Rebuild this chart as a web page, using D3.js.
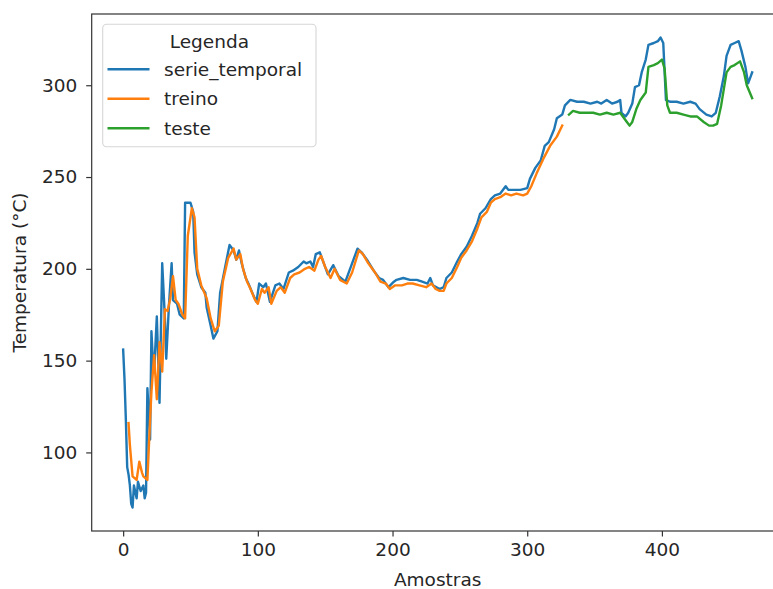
<!DOCTYPE html>
<html>
<head>
<meta charset="utf-8">
<script src="https://cdn.jsdelivr.net/npm/d3@7"></script>
<style>
  body { margin: 0; background: #fff; }
  text { font-family: 'DejaVu Sans', sans-serif; fill: #262626; }
</style>
</head>
<body>
<script>
width = 773;
height = 589;

// [amostra, temperatura]
const serieTemporal = [
  [0,156],[1,140],[2,118],[3,92],[4,88],[5,82],[6,72],[7,70],[8,82],[10,75],[11,84],[13,79],[15,82],[16,75],[17,78],
  [18,135],[20,107],[21,166],[22,151],[23,144],[25,174],[27,127],[29,203],[31,173],[32,151],[34,180],[36,203],[37,183],
  [40,181],[42,175],[45,173],[46,236],[50,236],[52,231],[53,209],[55,197],[58,190],[61,187],[62,179],[65,169],[67,162],
  [70,166],[72,187],[76,202],[79,213],[82,210],[84,205],[86,210],[88,203],[91,195],[93,192],[97,185],[99,182],[101,192],
  [104,190],[106,192],[109,182],[113,191],[116,192],[119,189],[123,198],[126,199],[130,201],[134,204],[136,203],[139,204],
  [141,201],[143,208],[146,209],[149,203],[152,197],[156,202],[160,196],[165,193],[168,199],[174,211],[177,209],[181,205],
  [186,199],[190,195],[193,194],[197,190],[201,193],[203,194],[208,195],[213,194],[218,194],[222,193],[226,192],[228,195],
  [230,191],[235,189],[238,190],[240,195],[244,198],[248,204],[251,208],[255,212],[259,218],[263,225],[265,230],[269,233],
  [273,238],[276,240],[280,241],[284,245],[286,243],[290,243],[295,243],[300,244],[302,249],[306,255],[310,259],[313,267],
  [316,269],[320,276],[322,282],[326,284],[328,289],[332,292],[337,291],[342,291],[347,290],[352,291],[355,290],[359,292],
  [363,290],[367,291],[369,292],[370,285],[373,283],[375,285],[378,290],[380,299],[383,300],[385,307],[388,314],[390,322],
  [394,323],[397,324],[399,326],[401,323],[403,292],[406,291],[411,291],[416,290],[421,291],[425,290],[428,287],[433,284],
  [437,283],[440,285],[443,294],[446,305],[448,316],[451,322],[454,323],[457,324],[459,319],[462,310],[464,301],[466,305],[467,307]
];

const treino = [
  [4,116],[5,104],[7,87],[10,85],[12,95],[14,89],[15,87],[18,85],[20,118],[21,133],[23,153],[25,129],[27,160],[29,144],
  [31,178],[33,177],[35,184],[37,196],[39,183],[41,181],[44,175],[46,173],[48,218],[51,233],[53,228],[55,200],[58,191],
  [62,184],[65,173],[68,166],[71,169],[74,193],[78,206],[82,211],[84,205],[87,208],[89,200],[92,193],[94,190],[98,183],
  [100,181],[103,189],[105,187],[108,190],[110,181],[114,188],[117,190],[120,187],[124,195],[127,197],[131,198],[135,200],
  [138,201],[140,200],[142,199],[145,205],[147,207],[150,201],[154,195],[157,200],[161,194],[166,192],[170,198],[175,210],
  [178,208],[182,203],[187,198],[191,193],[195,192],[198,189],[202,191],[207,191],[211,192],[215,192],[220,191],[225,190],
  [229,192],[232,189],[235,188],[238,188],[240,192],[244,195],[248,201],[251,206],[255,210],[259,215],[263,222],[266,228],
  [270,231],[273,236],[276,238],[280,239],[284,241],[288,240],[292,241],[297,240],[300,241],[303,245],[307,252],[312,260],
  [317,267],[322,272],[326,278]
];

const teste = [
  [331,284],[334,286],[339,285],[344,285],[349,285],[354,284],[359,285],[364,284],[369,285],[371,283],[374,280],[376,278],
  [378,280],[381,287],[384,292],[388,296],[390,310],[394,311],[397,312],[400,314],[402,309],[404,289],[406,285],[411,285],
  [416,284],[421,283],[426,283],[431,280],[435,278],[438,278],[441,279],[444,289],[446,298],[448,307],[451,310],[454,311],
  [458,313],[461,307],[463,300],[467,293]
];

const xTicks = [0, 100, 200, 300, 400];
const yTicks = [100, 150, 200, 250, 300];
const legendLabels = ['serie_temporal', 'treino', 'teste'];
const colors = ['#1f77b4', '#ff7f0e', '#2ca02c'];

const plot = { left: 91.7, top: 14, right: 783.6, bottom: 531 };
const fontSize = 18.5;

function padded(extent) {
  const m = (extent[1] - extent[0]) * 0.05;
  return [extent[0] - m, extent[1] + m];
}

function main() {
  const svg = d3.select('body').append('svg').attr('width', width).attr('height', height);
  const all = serieTemporal.concat(treino, teste);

  const x = d3.scaleLinear()
    .domain(padded(d3.extent(all, d => d[0])))
    .range([plot.left, plot.right]);
  const y = d3.scaleLinear()
    .domain(padded(d3.extent(all, d => d[1])))
    .range([plot.bottom, plot.top]);

  const line = d3.line().x(d => x(d[0])).y(d => y(d[1]));

  [serieTemporal, treino, teste].forEach((series, i) => {
    svg.append('path')
      .attr('d', line(series))
      .attr('fill', 'none')
      .attr('stroke', colors[i])
      .attr('stroke-width', 2.4)
      .attr('stroke-linejoin', 'round')
      .attr('stroke-linecap', 'square');
  });

  // spines
  svg.append('rect')
    .attr('x', plot.left)
    .attr('y', plot.top)
    .attr('width', plot.right - plot.left)
    .attr('height', plot.bottom - plot.top)
    .attr('fill', 'none')
    .attr('stroke', '#333')
    .attr('stroke-width', 1.2);

  const xAxis = svg.append('g')
    .attr('transform', `translate(0,${plot.bottom})`)
    .call(d3.axisBottom(x).tickValues(xTicks).tickSize(5.5).tickPadding(6).tickFormat(d3.format('d')));
  const yAxis = svg.append('g')
    .attr('transform', `translate(${plot.left},0)`)
    .call(d3.axisLeft(y).tickValues(yTicks).tickSize(5.5).tickPadding(9).tickFormat(d3.format('d')));

  [xAxis, yAxis].forEach(ax => {
    ax.select('.domain').remove();
    ax.selectAll('line').attr('stroke', '#333').attr('stroke-width', 1.2);
    ax.selectAll('text')
      .style('font-family', "'DejaVu Sans', sans-serif")
      .style('font-size', fontSize + 'px')
      .attr('fill', '#262626');
  });

  svg.append('text')
    .attr('x', (plot.left + plot.right) / 2)
    .attr('y', 586)
    .attr('text-anchor', 'middle')
    .style('font-size', fontSize + 'px')
    .text('Amostras');

  svg.append('text')
    .attr('transform', `translate(26,${(plot.top + plot.bottom) / 2}) rotate(-90)`)
    .attr('text-anchor', 'middle')
    .style('font-size', fontSize + 'px')
    .text('Temperatura (°C)');

  createLegend(svg);
}

function createLegend(svg) {
  const box = { x: 102.7, y: 24.3, w: 213.3, h: 122.4 };
  const legend = svg.append('g').attr('id', 'legend');

  legend.append('rect')
    .attr('x', box.x)
    .attr('y', box.y)
    .attr('width', box.w)
    .attr('height', box.h)
    .attr('rx', 4)
    .attr('fill', 'white')
    .attr('fill-opacity', 0.8)
    .attr('stroke', '#d6d6d6')
    .attr('stroke-width', 1.1);

  legend.append('text')
    .attr('x', box.x + box.w / 2)
    .attr('y', 47.5)
    .attr('text-anchor', 'middle')
    .style('font-size', fontSize + 'px')
    .text('Legenda');

  const rowY = i => 69.3 + i * 29.5;

  legend.selectAll('line')
    .data(legendLabels)
    .enter()
    .append('line')
    .attr('x1', 107.5)
    .attr('x2', 149.5)
    .attr('y1', (_, i) => rowY(i))
    .attr('y2', (_, i) => rowY(i))
    .attr('stroke', (_, i) => colors[i])
    .attr('stroke-width', 2.4);

  legend.selectAll('text.item')
    .data(legendLabels)
    .enter()
    .append('text')
    .attr('class', 'item')
    .attr('x', 164)
    .attr('y', (_, i) => rowY(i) + 6.6)
    .style('font-size', fontSize + 'px')
    .text(d => d);
}

main();
</script>
</body>
</html>
